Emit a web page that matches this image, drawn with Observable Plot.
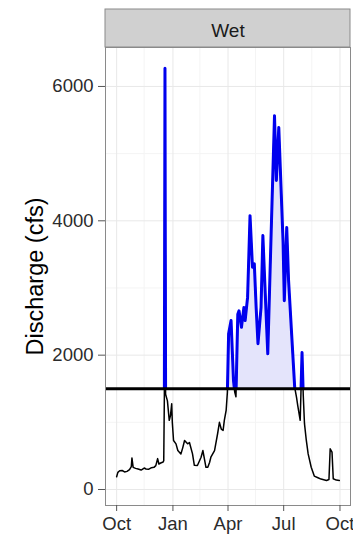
<!DOCTYPE html>
<html>
<head>
<meta charset="utf-8">
<script src="https://cdn.jsdelivr.net/npm/d3@7"></script>
<script src="https://cdn.jsdelivr.net/npm/@observablehq/plot@0.6"></script>
<style>
  html, body { margin: 0; padding: 0; background: white; }
</style>
</head>
<body>
<div id="chart"></div>
<script>
// ---- Data (water year Oct 2010 – Sep 2011) ----
const dates = [
  "2010-10-01","2010-10-03","2010-10-06","2010-10-10","2010-10-14","2010-10-18","2010-10-22","2010-10-25","2010-10-26","2010-10-28",
  "2010-11-01","2010-11-05","2010-11-10","2010-11-15","2010-11-18","2010-11-22","2010-11-27",
  "2010-12-01","2010-12-04","2010-12-07","2010-12-09","2010-12-12","2010-12-16","2010-12-17","2010-12-18","2010-12-19","2010-12-20",
  "2010-12-23","2010-12-26","2010-12-28","2010-12-30","2010-12-31",
  "2011-01-02","2011-01-06","2011-01-09","2011-01-14","2011-01-17","2011-01-20","2011-01-25","2011-01-28",
  "2011-02-02","2011-02-05","2011-02-10","2011-02-16","2011-02-19","2011-02-21","2011-02-24","2011-02-27",
  "2011-03-02","2011-03-04","2011-03-10","2011-03-15","2011-03-18","2011-03-21","2011-03-24","2011-03-26","2011-03-29","2011-03-31",
  "2011-04-02","2011-04-06","2011-04-10","2011-04-12","2011-04-14","2011-04-17","2011-04-19","2011-04-23","2011-04-27","2011-04-29",
  "2011-05-03","2011-05-07","2011-05-11","2011-05-14","2011-05-17","2011-05-20","2011-05-25","2011-05-28","2011-05-31",
  "2011-06-05","2011-06-10","2011-06-16","2011-06-19","2011-06-23","2011-06-30",
  "2011-07-02","2011-07-06","2011-07-09","2011-07-19","2011-07-22","2011-07-24","2011-07-28","2011-07-31",
  "2011-08-02","2011-08-04","2011-08-07","2011-08-10","2011-08-15","2011-08-20","2011-08-26","2011-08-31",
  "2011-09-09","2011-09-13","2011-09-15","2011-09-18","2011-09-20","2011-09-25","2011-09-30"
];
const discharge = [
  190,255,280,283,262,270,295,340,470,330,
  315,305,290,320,305,300,325,
  330,355,460,380,395,410,430,1400,6270,1420,
  1320,1030,1100,1275,1000,
  730,680,580,530,620,730,680,700,
  530,360,357,480,580,480,330,332,
  406,481,580,830,1000,900,880,1030,1180,1450,
  2320,2515,1620,1450,1380,2610,2660,2415,2710,2515,
  2860,4077,3310,3360,2710,2170,2710,3780,3110,
  2020,3650,5565,4600,5390,3680,
  2810,3900,3110,1520,1370,1250,1030,2040,
  1400,980,730,530,332,200,175,155,
  135,150,605,555,160,140,135
];
const threshold = 1500;

const xTickDates = ["2010-10-01","2011-01-01","2011-04-01","2011-07-01","2011-10-01"];
const xTickLabels = ["Oct","Jan","Apr","Jul","Oct"];
const xMinorDates = ["2010-11-15","2011-02-14","2011-05-16","2011-08-16"];
const yTicks = [0, 2000, 4000, 6000];
const yMinor = [1000, 3000, 5000];
const yDomain = [-238, 6580];
const panelLabel = "Wet";
const yTitle = "Discharge (cfs)";

// ---- Build table ----
const data = dates.map((d, i) => ({date: new Date(d), value: discharge[i]}));
const xt = xTickDates.map(d => new Date(d));
const xm = xMinorDates.map(d => new Date(d));
const [dMin, dMax] = d3.extent(data, d => d.date);
const pad = (dMax - dMin) * 0.05;

const W = 353, H = 534, mt = 47, mr = 3, mb = 29, ml = 105;
const font = "'Liberation Sans', Arial, Helvetica, sans-serif";

const plot = Plot.plot({
  width: W, height: H,
  marginTop: mt, marginRight: mr, marginBottom: mb, marginLeft: ml,
  style: {fontFamily: font, background: "white", overflow: "visible"},
  x: {type: "utc", domain: [new Date(+dMin - pad), new Date(+dMax + pad)]},
  y: {domain: yDomain},
  marks: [
    Plot.frame({fill: "white"}),
    Plot.ruleY(yMinor, {stroke: "#f4f4f4", strokeWidth: 1}),
    Plot.ruleX(xm, {stroke: "#f4f4f4", strokeWidth: 1}),
    Plot.ruleY(yTicks, {stroke: "#e8e8e8", strokeWidth: 1}),
    Plot.ruleX(xt, {stroke: "#e8e8e8", strokeWidth: 1}),
    Plot.areaY(data, {x: "date", y1: () => threshold, y2: "value", fill: "#e4e4fb"}),
    Plot.line(data, {x: "date", y: "value", stroke: "black", strokeWidth: 1.5}),
    Plot.line(data, {x: "date", y: "value", stroke: "#0000ee", strokeWidth: 3}),
    Plot.ruleY([threshold], {stroke: "black", strokeWidth: 3}),
    Plot.frame({stroke: "#8a8a8a", strokeWidth: 1}),
    Plot.axisX(xt, {
      anchor: "bottom", tickSize: 6, tickPadding: 5, fontSize: 18.5,
      stroke: "#555", fill: "#2b2b2b", label: null,
      tickFormat: d => xTickLabels[xt.findIndex(t => +t === +d)]
    }),
    Plot.axisY(yTicks, {
      anchor: "left", tickSize: 7, tickPadding: 5, fontSize: 18.5,
      stroke: "#555", fill: "#2b2b2b", label: null, tickFormat: d => String(d)
    }),
    Plot.text([yTitle], {
      text: d => d, frameAnchor: "left", dx: -70.5, rotate: -90,
      fontSize: 23.5, lineAnchor: "middle", textAnchor: "middle", fill: "black"
    }),
    Plot.text([panelLabel], {
      text: d => d, frameAnchor: "top", dy: -17,
      fontSize: 19, lineAnchor: "middle", textAnchor: "middle", fill: "#1a1a1a"
    })
  ]
});

// ---- Clip the blue line & fill to the part above the threshold ----
const svg = d3.select(plot);
const yPix = plot.scale("y").apply(threshold);
const defs = svg.insert("defs", ":first-child");
defs.append("clipPath").attr("id", "above-threshold")
  .append("rect")
  .attr("x", 0).attr("y", 0)
  .attr("width", W).attr("height", yPix);
const lines = plot.querySelectorAll('g[aria-label="line"]');
const areas = plot.querySelectorAll('g[aria-label="area"]');
if (lines.length > 1) lines[1].setAttribute("clip-path", "url(#above-threshold)");
if (areas.length > 0) areas[0].setAttribute("clip-path", "url(#above-threshold)");

// ---- Facet strip background ----
svg.insert("rect", "defs + *")
  .attr("x", ml).attr("y", 9)
  .attr("width", W - ml - mr).attr("height", mt - 9)
  .attr("fill", "#d0d0d0").attr("stroke", "#8a8a8a").attr("stroke-width", 1);

document.getElementById("chart").appendChild(plot);
</script>
</body>
</html>
